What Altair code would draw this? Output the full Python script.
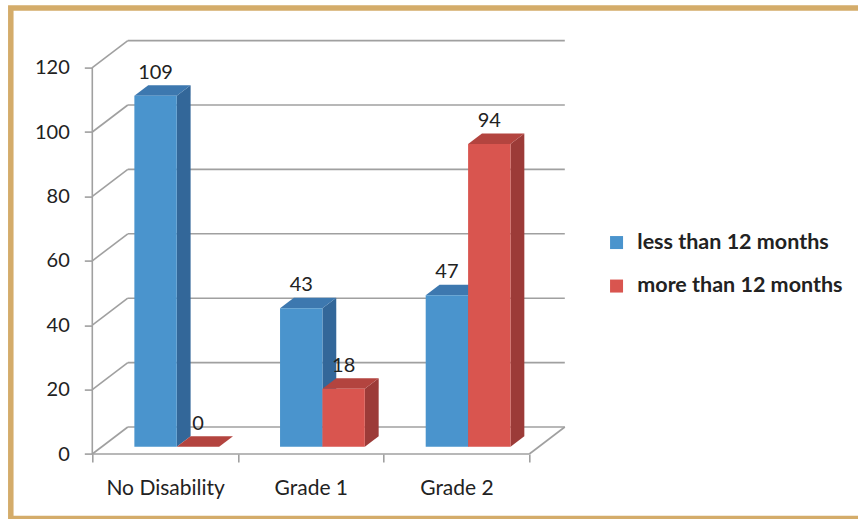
import altair as alt
import pandas as pd

# ---------------- data ----------------
categories = ["No Disability", "Grade 1", "Grade 2"]
series_names = ["less than 12 months", "more than 12 months"]
less_than_12 = [109, 43, 47]
more_than_12 = [0, 18, 94]
y_ticks = [0, 20, 40, 60, 80, 100, 120]

# ---------------- geometry / style ----------------
PX_PER_CAT = 145.67
PX_PER_UNIT = 3.22
DEPTH_PX_X = 35.5
DEPTH_PX_Y = 27.0
DXU = DEPTH_PX_X / PX_PER_CAT
DYU = DEPTH_PX_Y / PX_PER_UNIT
Y_TOP = 120
NCAT = len(categories)
XMAX = NCAT + DXU
YMAX = Y_TOP + DYU
W = XMAX * PX_PER_CAT
H = YMAX * PX_PER_UNIT
LEFT = 92.3
BASE_Y = 454.0
TOP = BASE_Y - H
BW = 0.291
OFF = 0.223
Z0, Z1 = 0.27, 0.66

front_col = ["#4A94CD", "#D9554F"]
top_col = ["#3D78AF", "#B3443F"]
side_col = ["#336799", "#9C3B38"]
grid_col = "#A0A0A0"
text_col = "#222222"
FONT = "Lato"

# ---------------- build tables ----------------
values = [less_than_12, more_than_12]
fronts, sides, tops, labels = [], [], [], []
ddx = (Z1 - Z0) * DXU
ddy = (Z1 - Z0) * DYU
for s, name in enumerate(series_names):
    for i, cat in enumerate(categories):
        v = values[s][i]
        key = f"{s}-{i}"
        xl = i + OFF + s * BW + Z0 * DXU
        xr = xl + BW
        yb = Z0 * DYU
        yt = v + Z0 * DYU
        fronts.append(dict(series=name, x=xl, x2=xr, y=yb, y2=yt))
        sides.append(dict(key=key, fill=side_col[s], x=xr, y=yb, y2=yt))
        sides.append(dict(key=key, fill=side_col[s], x=xr + ddx, y=yb + ddy, y2=yt + ddy))
        tops.append(dict(key=key, fill=top_col[s], y=yt, x=xl, x2=xr))
        tops.append(dict(key=key, fill=top_col[s], y=yt + ddy, x=xl + ddx, x2=xr + ddx))
        labels.append(dict(x=(xl + xr) / 2, y=v + Z1 * DYU, label=str(v)))

rules = [
    dict(x=0, y=0, x2=0, y2=Y_TOP),
    dict(x=0, y=0, x2=NCAT, y2=0),
    dict(x=NCAT, y=0, x2=NCAT + DXU, y2=DYU),
]
for t in y_ticks:
    rules.append(dict(x=0, y=t, x2=DXU, y2=t + DYU))
    rules.append(dict(x=DXU, y=t + DYU, x2=NCAT + DXU, y2=t + DYU))

df_front = pd.DataFrame(fronts)
df_side = pd.DataFrame(sides)
df_top = pd.DataFrame(tops)
df_lab = pd.DataFrame(labels)
df_rules = pd.DataFrame(rules)

# ---------------- scales & axes ----------------
xs = alt.Scale(domain=[0, XMAX], nice=False, zero=False)
ys = alt.Scale(domain=[0, YMAX], nice=False, zero=False)

label_expr = " : ".join(
    f"datum.value === {i + 0.5} ? '{c}'" for i, c in enumerate(categories)
) + " : ''"
x_vals = sorted(set([i * 0.5 for i in range(2 * NCAT + 1)]))

xaxis = alt.Axis(
    values=x_vals, title=None, domain=False, grid=False,
    tickSize=8, tickWidth=1.6,
    tickColor={"condition": {"test": "datum.value % 1 === 0", "value": grid_col}, "value": "transparent"},
    labelExpr=label_expr, labelFont=FONT, labelFontSize=21, labelColor=text_col,
    labelPadding=15, labelOverlap=False, labelFlush=False,
)
yaxis = alt.Axis(
    values=y_ticks, title=None, domain=False, grid=False,
    tickSize=8, tickWidth=1.6, tickColor=grid_col,
    labelFont=FONT, labelFontSize=20, labelColor=text_col, labelPadding=15,
)


def X(f):
    return alt.X(f, type="quantitative", scale=xs, axis=xaxis)


def Y(f):
    return alt.Y(f, type="quantitative", scale=ys, axis=yaxis, stack=None)


frame = alt.Chart(pd.DataFrame({"a": [0]})).mark_rect(
    filled=False, stroke="#D4AC6A", strokeWidth=5.5
).encode(
    x=alt.value(10.8 - LEFT), x2=alt.value(862 - LEFT),
    y=alt.value(8 - TOP), y2=alt.value(518.5 - TOP),
)

grid = alt.Chart(df_rules).mark_rule(color=grid_col, strokeWidth=1.6).encode(
    x=X("x"), y=Y("y"), x2="x2", y2="y2"
)

side = alt.Chart(df_side).mark_area(orient="vertical").encode(
    x=X("x"), y=Y("y"), y2="y2",
    detail="key:N", fill=alt.Fill("fill:N", scale=None),
)

top = alt.Chart(df_top).mark_area(orient="horizontal").encode(
    y=Y("y"), x=X("x"), x2="x2",
    detail="key:N", fill=alt.Fill("fill:N", scale=None),
)

front = alt.Chart(df_front).mark_rect().encode(
    x=X("x"), x2="x2", y=Y("y"), y2="y2",
    color=alt.Color(
        "series:N",
        scale=alt.Scale(domain=series_names, range=front_col),
        legend=alt.Legend(
            orient="none", legendX=513.5, legendY=191.2, title=None,
            symbolType="square", symbolSize=169, symbolStrokeWidth=0,
            labelFont=FONT, labelFontSize=21.5, labelFontWeight="bold",
            labelColor=text_col, rowPadding=20.5, labelOffset=10, padding=0,
            labelLimit=0,
        ),
    ),
)

text = alt.Chart(df_lab).mark_text(
    font=FONT, fontSize=20, color=text_col, baseline="middle", align="center", dy=-12.5
).encode(x=X("x"), y=Y("y"), text="label:N")

chart = alt.layer(frame, grid, side, top, front, text).properties(
    width=W, height=H,
    autosize=alt.AutoSizeParams(type="none"),
    padding={"left": LEFT, "top": TOP, "right": 858 - LEFT - W, "bottom": 519 - BASE_Y},
    background="white",
).configure_view(stroke=None)

chart.save("out.html", embed_options={"renderer": "svg", "actions": False})
